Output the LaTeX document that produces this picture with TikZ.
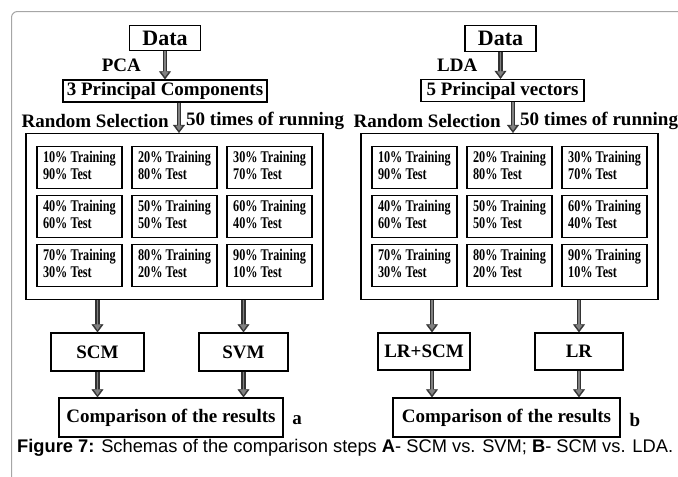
\documentclass[tikz,border=0pt]{standalone}
\usepackage{fontspec}
\setmainfont{Liberation Serif}
\newfontfamily\capfont{Liberation Sans}
\newfontfamily\cellfont[FakeStretch=0.75]{Liberation Serif}
\usetikzlibrary{matrix,positioning,arrows.meta}
\newcommand{\tsplit}[2]{\begin{tabular}{@{}l@{}}#1\% Training\\#2\% Test\end{tabular}}

\begin{document}
\begin{tikzpicture}[x=1pt,y=-1pt,
	box/.style={draw,line width=1.3pt,inner sep=2pt,font=\fontsize{19}{22}\selectfont\bfseries},
	lbl/.style={inner sep=2pt,font=\fontsize{19}{22}\selectfont\bfseries},
	cell/.style={draw,line width=1.6pt,minimum width=85pt,minimum height=42pt,inner sep=0pt,font=\cellfont\fontsize{16.3}{17.5}\selectfont\bfseries},
	grid/.style={matrix of nodes,nodes={cell},column sep=8.5pt,row sep=5.5pt,draw,line width=1.3pt,inner xsep=10pt,inner ysep=12pt},
	flow/.style={draw=black!80,line width=4.4pt,-{Triangle[length=8pt,width=12pt,line width=0.4pt]},
		postaction={draw=black!50,line width=1.8pt,shorten >=2.4pt,-{Triangle[length=5pt,width=7pt,line width=0.4pt]}}}]
	\clip (0,0) rectangle (678,477);
	% frame round the figure
	\draw[black!35,line width=1pt,rounded corners=6pt] (700,11.5) -| (11.5,500);

	% a: PCA, then SCM and SVM
	\node[box,minimum width=71pt,minimum height=25pt,font=\fontsize{22}{24}\selectfont\bfseries] (dataA) at (165,38) {Data};
	\node[box,minimum width=204pt,minimum height=22pt] (pcA) at (165,91) {3 Principal Components};
	\matrix (gridA) [grid] at (174.5,216.5)
	{
		\tsplit{10}{90} & \tsplit{20}{80} & \tsplit{30}{70} \\
		\tsplit{40}{60} & \tsplit{50}{50} & \tsplit{60}{40} \\
		\tsplit{70}{30} & \tsplit{80}{20} & \tsplit{90}{10} \\};
	\node[box,minimum width=93pt,minimum height=38pt] (scmA) at (97.5,352) {SCM};
	\node[box,minimum width=89pt,minimum height=38pt] (svmA) at (243.5,352) {SVM};
	\node[box,minimum width=224pt,minimum height=39pt] (cmpA) at (171,417.5) {Comparison of the results};
	\node[lbl] (tagA) at (297,420) {a};

	\draw[flow] (dataA.south) -- (pcA.north) node[lbl,midway,left=20pt] (pca) {PCA};
	\draw[flow] ([xshift=14pt]pcA.south) -- ([xshift=14pt]pcA.south |- gridA.north)
		node[lbl,pos=0.6,left=6pt] (rsA) {Random Selection}
		node[lbl,pos=0.6,right=3pt] (runA) {50 times of running};
	\draw[flow] (gridA.south -| scmA.north) -- (scmA.north);
	\draw[flow] (gridA.south -| svmA.north) -- (svmA.north);
	\draw[flow] (scmA.south) -- (scmA.south |- cmpA.north);
	\draw[flow] (svmA.south) -- (svmA.south |- cmpA.north);

	% b: LDA, then LR+SCM and LR
	\node[box,minimum width=71pt,minimum height=26pt,font=\fontsize{22}{24}\selectfont\bfseries] (dataB) at (500.5,38.5) {Data};
	\node[box,minimum width=163pt,minimum height=22pt] (pcB) at (502.5,90.5) {5 Principal vectors};
	\matrix (gridB) [grid] at (509.5,216.5)
	{
		\tsplit{10}{90} & \tsplit{20}{80} & \tsplit{30}{70} \\
		\tsplit{40}{60} & \tsplit{50}{50} & \tsplit{60}{40} \\
		\tsplit{70}{30} & \tsplit{80}{20} & \tsplit{90}{10} \\};
	\node[box,minimum width=92pt,minimum height=37pt] (lrsB) at (424,351.5) {LR+SCM};
	\node[box,minimum width=88pt,minimum height=37pt] (lrB) at (579,351.5) {LR};
	\node[box,minimum width=227pt,minimum height=39pt] (cmpB) at (506.5,417.5) {Comparison of the results};
	\node[lbl] (tagB) at (635,420) {b};

	\draw[flow] (dataB.south) -- (dataB.south |- pcB.north) node[lbl,midway,left=19pt] (lda) {LDA};
	\draw[flow] ([xshift=10.5pt]pcB.south) -- ([xshift=10.5pt]pcB.south |- gridB.north)
		node[lbl,pos=0.6,left=8pt] (rsB) {Random Selection}
		node[lbl,pos=0.6,right=3pt] (runB) {50 times of running};
	\draw[flow] ([xshift=8pt]gridB.south -| lrsB.north) -- ([xshift=8pt]lrsB.north);
	\draw[flow] (gridB.south -| lrB.north) -- (lrB.north);
	\draw[flow] ([xshift=8pt]lrsB.south) -- ([xshift=8pt]lrsB.south |- cmpB.north);
	\draw[flow] (lrB.south) -- (lrB.south |- cmpB.north);

	\node[anchor=west,inner sep=0pt,font=\capfont\fontsize{18.3}{20}\selectfont] (cap) at (17,448)
		{\textbf{Figure 7:} Schemas of the comparison steps \textbf{A}- SCM vs. SVM; \textbf{B}- SCM vs. LDA.};
\end{tikzpicture}
\end{document}
